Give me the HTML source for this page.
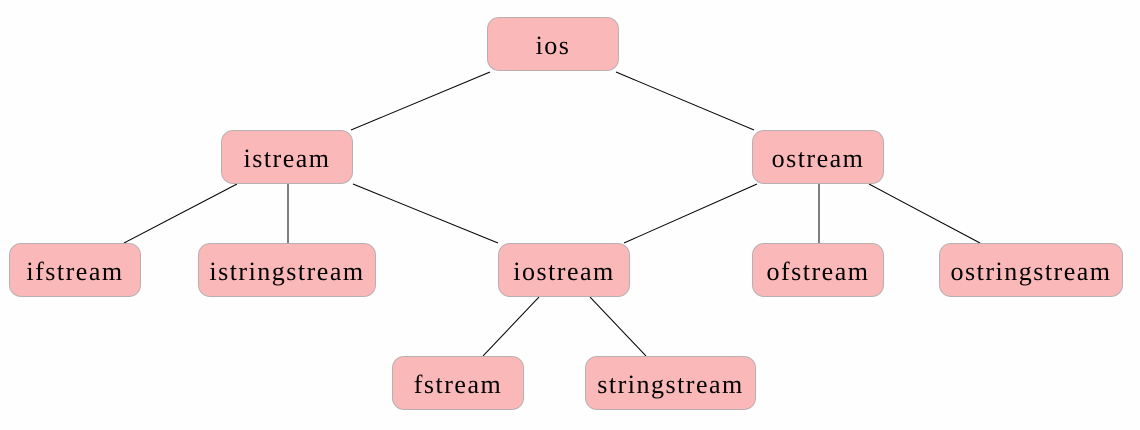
<!DOCTYPE html>
<html><head><style>
body{margin:0;width:1140px;height:430px;background:#fefefe;position:relative;overflow:hidden}
.n{position:absolute;box-sizing:border-box;height:54px;padding-top:3px;background:#fbb8b9;border:1px solid #b8b0b0;border-radius:12px;display:flex;align-items:center;justify-content:center;font-family:"Liberation Serif",serif;font-size:26px;letter-spacing:1.5px;color:#000;white-space:nowrap}
svg{position:absolute;left:0;top:0}
</style></head><body>
<svg width="1140" height="430"><g stroke="#000" stroke-width="1">
<line x1="490" y1="72" x2="351" y2="130"/>
<line x1="616" y1="72" x2="754" y2="130"/>
<line x1="237" y1="184" x2="124" y2="243"/>
<line x1="288" y1="184" x2="288" y2="243"/>
<line x1="353" y1="184" x2="498" y2="243"/>
<line x1="757" y1="184" x2="624" y2="243"/>
<line x1="819" y1="184" x2="819" y2="243"/>
<line x1="869" y1="184" x2="980" y2="243"/>
<line x1="539" y1="297" x2="483" y2="356"/>
<line x1="590" y1="297" x2="646" y2="356"/>
</g></svg>
<div class="n" style="left:487px;top:17px;width:132px">ios</div>
<div class="n" style="left:221px;top:130px;width:132px">istream</div>
<div class="n" style="left:752px;top:130px;width:132px">ostream</div>
<div class="n" style="left:9px;top:243px;width:132px">ifstream</div>
<div class="n" style="left:198px;top:243px;width:178px">istringstream</div>
<div class="n" style="left:498px;top:243px;width:132px">iostream</div>
<div class="n" style="left:752px;top:243px;width:132px">ofstream</div>
<div class="n" style="left:939px;top:243px;width:184px">ostringstream</div>
<div class="n" style="left:392px;top:356px;width:132px">fstream</div>
<div class="n" style="left:585px;top:356px;width:171px">stringstream</div>
</body></html>
